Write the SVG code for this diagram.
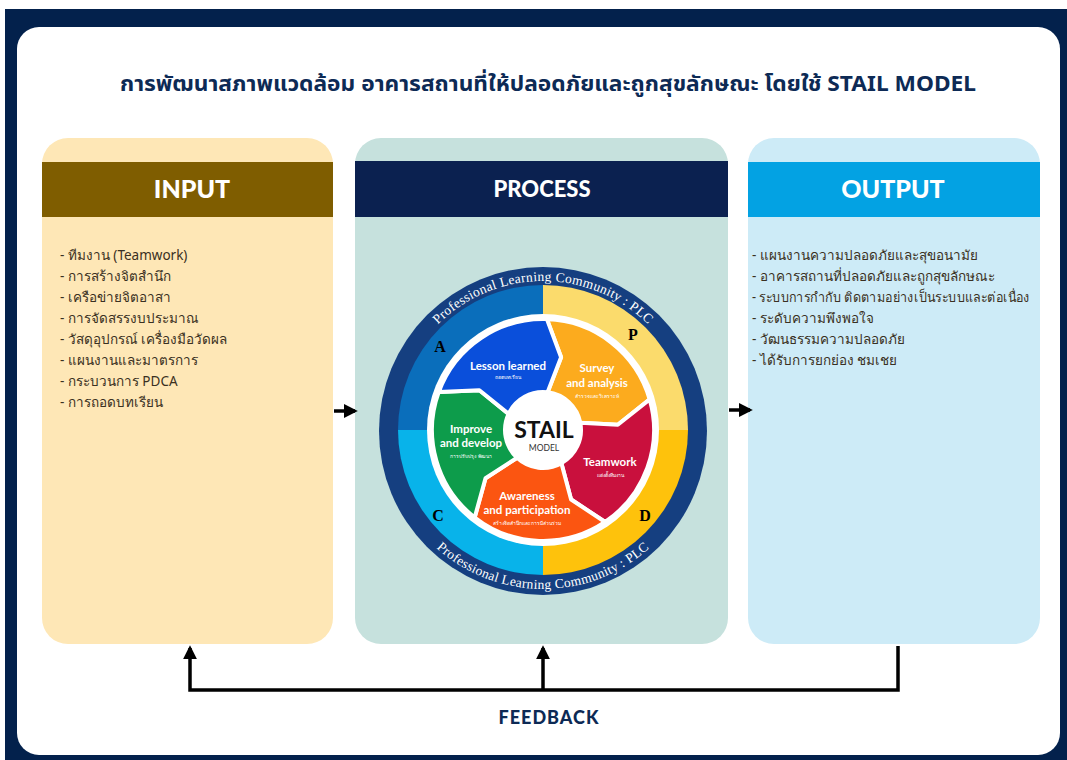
<svg xmlns="http://www.w3.org/2000/svg" width="1067" height="760" viewBox="0 0 1067 760">
<style>
.hdr{font-family:"Lato","Noto Sans",sans-serif;font-weight:900;fill:#ffffff;text-anchor:middle}
.item{font-family:"Noto Sans","Liberation Sans",sans-serif;font-size:13.5px;fill:#3a3022}
.seg{font-family:"Lato","Open Sans",sans-serif;font-weight:700;font-size:11.5px;fill:#ffffff;text-anchor:middle}
.small{font-family:"Noto Sans",sans-serif;font-size:5px;fill:#ffffff;text-anchor:middle}
.pdca{font-family:"Liberation Serif","DejaVu Serif",serif;font-weight:700;font-size:16px;fill:#000000;text-anchor:middle}
.plc{font-family:"Liberation Serif","DejaVu Serif",serif;font-size:13.5px;fill:#ffffff;text-anchor:middle;letter-spacing:0.3px}
.conn{stroke:#000000;stroke-width:3.5;fill:none}
.cut{stroke:#ffffff;stroke-width:4;stroke-linejoin:round}
</style>
<defs>
<marker id="ah" viewBox="0 0 10 10" refX="8" refY="5" markerWidth="4" markerHeight="4" orient="auto" markerUnits="strokeWidth">
<path d="M0,0 L10,5 L0,10 Z" fill="#000000"/>
</marker>
<path id="arcTop" d="M 428.9 334.2 A 149 149 0 0 1 657.1 334.2"/>
<path id="arcBot" d="M 421.2 532.2 A 159 159 0 0 0 664.8 532.2"/>
</defs>

<rect x="0" y="0" width="1067" height="760" fill="#ffffff"/>
<rect x="5" y="9" width="1062" height="751" fill="#03214c"/>
<rect x="17" y="27" width="1043" height="728" rx="22" fill="#ffffff"/>

<g id="title">
<text x="548" y="91" text-anchor="middle" font-family="Noto Sans, Noto Sans Thai, sans-serif" font-weight="700" font-size="21" fill="#0d2a55" textLength="856" lengthAdjust="spacingAndGlyphs">การพัฒนาสภาพแวดล้อม อาคารสถานที่ให้ปลอดภัยและถูกสุขลักษณะ โดยใช้ STAIL MODEL</text>
</g>

<g id="input">
<rect x="42" y="138" width="291" height="506" rx="26" fill="#fee7b6"/>
<rect x="42" y="162" width="291" height="55" fill="#7f5d00"/>
<text class="hdr" x="192" y="198" font-size="25">INPUT</text>
<text class="item" x="60" y="260">- ทีมงาน (Teamwork)</text>
<text class="item" x="60" y="281">- การสร้างจิตสำนึก</text>
<text class="item" x="60" y="302">- เครือข่ายจิตอาสา</text>
<text class="item" x="60" y="323">- การจัดสรรงบประมาณ</text>
<text class="item" x="60" y="344">- วัสดุอุปกรณ์ เครื่องมือวัดผล</text>
<text class="item" x="60" y="365">- แผนงานและมาตรการ</text>
<text class="item" x="60" y="386">- กระบวนการ PDCA</text>
<text class="item" x="60" y="407">- การถอดบทเรียน</text>
</g>

<g id="process">
<rect x="355" y="138" width="373" height="506" rx="26" fill="#c6e1dd"/>
<rect x="355" y="161" width="373" height="56" fill="#0b2150"/>
<text class="hdr" x="542" y="197" font-size="22">PROCESS</text>
</g>

<g id="output">
<rect x="748" y="138" width="292" height="506" rx="26" fill="#cdebf7"/>
<rect x="748" y="162" width="292" height="55" fill="#03a2e3"/>
<text class="hdr" x="893" y="198" font-size="25">OUTPUT</text>
<text class="item" x="752" y="260">- แผนงานความปลอดภัยและสุขอนามัย</text>
<text class="item" x="752" y="281">- อาคารสถานที่ปลอดภัยและถูกสุขลักษณะ</text>
<text class="item" x="752" y="302" textLength="278" lengthAdjust="spacingAndGlyphs">- ระบบการกำกับ ติดตามอย่างเป็นระบบและต่อเนื่อง</text>
<text class="item" x="752" y="323">- ระดับความพึงพอใจ</text>
<text class="item" x="752" y="344">- วัฒนธรรมความปลอดภัย</text>
<text class="item" x="752" y="365">- ได้รับการยกย่อง ชมเชย</text>
</g>

<g id="stail-wheel">
<circle cx="543" cy="431" r="164" fill="#153f80"/>
<path d="M543,430 L398,430 A145 145 0 0 1 543,285 Z" fill="#0a6ebb"/>
<path d="M543,430 L543,285 A145 145 0 0 1 688,430 Z" fill="#fbdb6c"/>
<path d="M543,430 L688,430 A145 145 0 0 1 543,575 Z" fill="#fec20c"/>
<path d="M543,430 L543,575 A145 145 0 0 1 398,430 Z" fill="#08b3ea"/>
<circle cx="543" cy="430" r="116" fill="#ffffff"/>
<text class="plc"><textPath href="#arcTop" startOffset="50%">Professional Learning Community : PLC</textPath></text>
<text class="plc"><textPath href="#arcBot" startOffset="50%">Professional Learning Community : PLC</textPath></text>
<text class="pdca" x="440" y="352">A</text>
<text class="pdca" x="633" y="340">P</text>
<text class="pdca" x="438" y="521">C</text>
<text class="pdca" x="645" y="521">D</text>

<path class="cut" fill="#fcab1e" d="M546.9,319.1 A111 111 0 0 1 649.7,399.4 L617.8,424.8 L580.3,422.7 A38 38 0 0 0 547.6,392.3 L561.1,357.2 Z"/>
<path class="cut" fill="#c9103d" d="M649.7,399.4 A111 111 0 0 1 605.1,522.0 L571.1,499.5 L561.4,463.2 A38 38 0 0 0 580.3,422.7 L617.8,424.8 Z"/>
<path class="cut" fill="#fb5511" d="M605.1,522.0 A111 111 0 0 1 474.7,517.5 L485.5,478.2 L517.1,457.8 A38 38 0 0 0 561.4,463.2 L571.1,499.5 Z"/>
<path class="cut" fill="#0d9c4b" d="M474.7,517.5 A111 111 0 0 1 438.7,392.0 L479.4,390.3 L508.6,413.9 A38 38 0 0 0 517.1,457.8 L485.5,478.2 Z"/>
<path class="cut" fill="#0a4fdb" d="M438.7,392.0 A111 111 0 0 1 546.9,319.1 L561.1,357.2 L547.6,392.3 A38 38 0 0 0 508.6,413.9 L479.4,390.3 Z"/>
<circle cx="543" cy="430" r="36" fill="#ffffff"/>

<text x="544" y="438" text-anchor="middle" font-family="Lato, Open Sans, sans-serif" font-weight="700" font-size="23" fill="#111111">STAIL</text>
<text x="544" y="451" text-anchor="middle" font-family="Lato, Open Sans, sans-serif" font-size="8.5" fill="#333333">MODEL</text>

<text class="seg" x="508" y="370">Lesson learned</text>
<text class="small" x="508" y="379">ถอดบทเรียน</text>
<text class="seg" x="597" y="372">Survey</text>
<text class="seg" x="597" y="387">and analysis</text>
<text class="small" x="597" y="398">สำรวจและวิเคราะห์</text>
<text class="seg" x="471" y="433">Improve</text>
<text class="seg" x="471" y="447">and develop</text>
<text class="small" x="471" y="458">การปรับปรุง พัฒนา</text>
<text class="seg" x="610" y="466">Teamwork</text>
<text class="small" x="610" y="477">แต่งตั้งทีมงาน</text>
<text class="seg" x="527" y="500">Awareness</text>
<text class="seg" x="527" y="514">and participation</text>
<text class="small" x="527" y="525">สร้างจิตสำนึกและการมีส่วนร่วม</text>
</g>

<g id="connectors">
<line class="conn" x1="334" y1="411" x2="355" y2="411" marker-end="url(#ah)"/>
<line class="conn" x1="729" y1="410" x2="750" y2="410" marker-end="url(#ah)"/>
<polyline class="conn" points="898,646 898,690 190,690 190,648" marker-end="url(#ah)"/>
<line class="conn" x1="543" y1="690" x2="543" y2="648" marker-end="url(#ah)"/>
</g>

<g id="feedback-label">
<text x="549" y="724" text-anchor="middle" font-family="Lato, Noto Sans, sans-serif" font-weight="900" font-size="18" letter-spacing="1" fill="#0d2a55">FEEDBACK</text>
</g>
</svg>
